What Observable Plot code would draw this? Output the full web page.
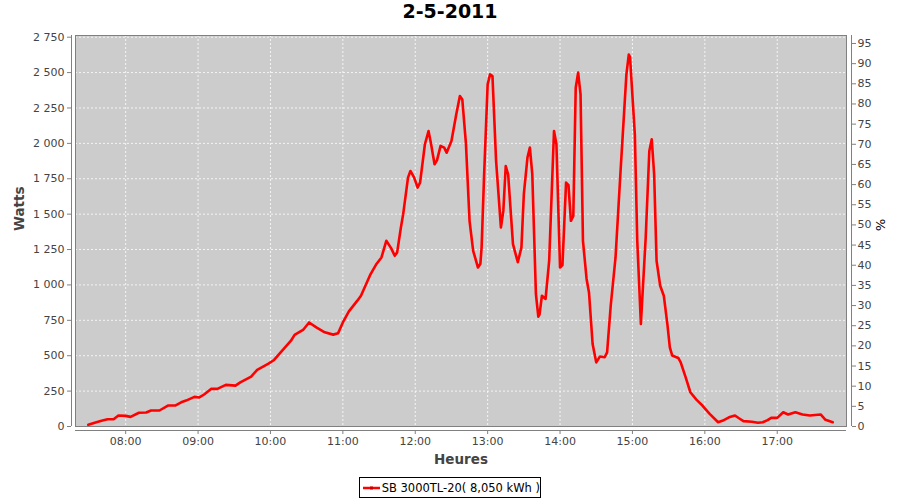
<!DOCTYPE html>
<html>
<head>
<meta charset="utf-8">
<script src="https://cdn.jsdelivr.net/npm/d3@7"></script>
<script src="https://cdn.jsdelivr.net/npm/@observablehq/plot@0.6"></script>
<style>
  html, body { margin: 0; padding: 0; background: #ffffff; }
  body { width: 900px; height: 500px; position: relative; font-family: "DejaVu Sans", sans-serif; }
  #title { height: 30px; line-height: 28px; text-align: center; font: bold 19px "DejaVu Sans", sans-serif; color: #000; }
  #chart svg { display: block; }
  #legend { position: absolute; left: 359px; top: 477px; width: 182px; height: 21px; box-sizing: border-box;
            border: 1px solid #000; display: flex; align-items: center; font: 11.5px "DejaVu Sans", sans-serif; color: #000; white-space: nowrap; }
</style>
</head>
<body>
<div id="title">2-5-2011</div>
<div id="chart"></div>
<div id="legend"><svg width="20" height="10" style="margin-left:2px;margin-right:1px"><line x1="1" x2="18" y1="5" y2="5" stroke="#ff0000" stroke-width="2.5"/><rect x="8" y="3.5" width="3" height="3" fill="#cc0000"/></svg><span>SB 3000TL-20( 8,050 kWh )</span></div>
<script>
// ---- data ----
const times = ["07:29","07:35","07:40","07:45","07:50","07:54","08:00","08:04","08:11","08:17","08:21","08:28","08:35","08:41","08:46","08:50","08:57","09:01","09:05","09:11","09:16","09:23","09:31","09:35","09:44","09:49","09:58","10:03","10:11","10:17","10:20","10:27","10:32","10:38","10:45","10:52","10:56","11:00","11:05","11:12","11:15","11:23","11:28","11:32","11:36","11:40","11:43","11:45","11:48","11:50","11:54","11:56","11:59","12:02","12:04","12:08","12:11","12:13","12:16","12:18","12:21","12:24","12:26","12:30","12:34","12:37","12:39","12:42","12:45","12:48","12:52","12:54","12:55","12:57","13:00","13:02","13:04","13:07","13:11","13:13","13:15","13:17","13:21","13:25","13:28","13:30","13:33","13:35","13:37","13:40","13:42","13:43","13:45","13:48","13:51","13:55","13:57","14:00","14:02","14:05","14:07","14:09","14:11","14:13","14:15","14:17","14:19","14:22","14:24","14:27","14:30","14:33","14:37","14:39","14:42","14:46","14:50","14:52","14:55","14:57","14:58","15:02","15:04","15:07","15:11","15:14","15:16","15:18","15:20","15:23","15:26","15:29","15:31","15:33","15:38","15:40","15:44","15:48","15:53","15:58","16:04","16:11","16:15","16:20","16:25","16:28","16:32","16:39","16:44","16:48","16:52","16:55","17:00","17:05","17:09","17:15","17:21","17:27","17:36","17:40","17:46"];
const watts = [12,28,40,51,51,78,75,68,97,99,113,113,148,148,171,183,209,205,226,266,266,294,289,312,353,400,442,470,548,606,647,682,735,700,665,649,658,735,813,889,924,1077,1150,1194,1312,1260,1206,1230,1400,1500,1758,1805,1760,1688,1723,1994,2087,2000,1853,1880,1982,1970,1934,2017,2205,2334,2310,2000,1453,1241,1123,1150,1265,1760,2417,2487,2475,1876,1406,1523,1840,1780,1288,1160,1265,1641,1900,1970,1782,936,776,790,924,901,1171,2087,1994,1123,1140,1723,1705,1453,1488,2393,2500,2346,1312,1042,947,583,453,494,489,524,853,1194,1782,2064,2487,2628,2610,2064,1312,724,1335,1946,2029,1782,1171,994,924,720,559,501,484,453,350,242,190,148,89,30,42,65,78,60,38,33,26,30,45,61,61,101,85,101,85,78,85,47,30];
const hourTickLabels = ["08:00","09:00","10:00","11:00","12:00","13:00","14:00","15:00","16:00","17:00"];
const wattTicks = [0,250,500,750,1000,1250,1500,1750,2000,2250,2500,2750];
const pctTicks = [0,5,10,15,20,25,30,35,40,45,50,55,60,65,70,75,80,85,90,95];
const seriesName = "SB 3000TL-20( 8,050 kWh )";

// ---- build ----
const parseT = s => { const [h, m, sec] = s.split(":").map(Number); return new Date(2011, 4, 2, h, m, sec || 0); };
const data = times.map((t, i) => ({t: parseT(t), w: watts[i]}));
const hourTicks = hourTickLabels.map(parseT);
const xDomain = [parseT("07:18:25"), parseT("17:57:25")];
const K = 28.48; // watts per percent on the right axis
const frLocale = d3.formatLocale({decimal: ",", thousands: " ", grouping: [3], currency: ["", " €"]});
const fmtW = frLocale.format(",");
const fmtT = d3.timeFormat("%H:%M");
const axisGrey = "#808080";
const textGrey = "#444444";

const chart = Plot.plot({
  width: 900,
  height: 440,
  marginLeft: 75,
  marginRight: 54,
  marginTop: 5,
  marginBottom: 44,
  x: {type: "time", domain: xDomain},
  y: {domain: [0, 2762]},
  style: {fontFamily: "DejaVu Sans, sans-serif", fontSize: "11px", color: textGrey, background: "#ffffff", overflow: "visible"},
  marks: [
    Plot.frame({fill: "#cccccc", stroke: null}),
    Plot.gridY(wattTicks, {stroke: "#ffffff", strokeOpacity: 0.8, strokeDasharray: "2,2"}),
    Plot.gridX(hourTicks, {stroke: "#ffffff", strokeOpacity: 0.8, strokeDasharray: "2,2"}),
    Plot.frame({stroke: axisGrey}),
    Plot.ruleX([xDomain[0]], {dx: -4, stroke: axisGrey}),
    Plot.ruleX([xDomain[1]], {dx: 5, stroke: axisGrey}),
    Plot.ruleY([0], {dy: 4, stroke: axisGrey}),
    Plot.axisY(wattTicks, {anchor: "left", tickSize: 4, tickPadding: 3, dx: -4, tickFormat: fmtW, label: null, color: textGrey, stroke: axisGrey}),
    Plot.axisY(pctTicks.map(p => p * K), {anchor: "right", tickSize: 4, tickPadding: 2, dx: 5, tickFormat: d => String(Math.round(d / K)), label: null, color: textGrey, stroke: axisGrey}),
    Plot.axisX(hourTicks, {anchor: "bottom", tickSize: 4, tickPadding: 3, dy: 4, tickFormat: fmtT, label: null, color: textGrey, stroke: axisGrey}),
    Plot.line(data, {x: "t", y: "w", stroke: "#ff0000", strokeWidth: 2.6, strokeLinejoin: "round", clip: true}),
    Plot.text(["Heures"], {text: d => d, frameAnchor: "bottom", dy: 37, fontWeight: "bold", fontSize: 13.5, fill: textGrey}),
    Plot.text(["Watts"], {text: d => d, frameAnchor: "left", dx: -56, rotate: -90, fontWeight: "bold", fontSize: 13.5, fill: textGrey}),
    Plot.text(["%"], {text: d => d, frameAnchor: "right", dx: 34, rotate: 90, fontSize: 13, fill: "#000"})
  ]
});
document.getElementById("chart").appendChild(chart);
document.querySelector("#legend span").textContent = seriesName;
</script>
</body>
</html>
